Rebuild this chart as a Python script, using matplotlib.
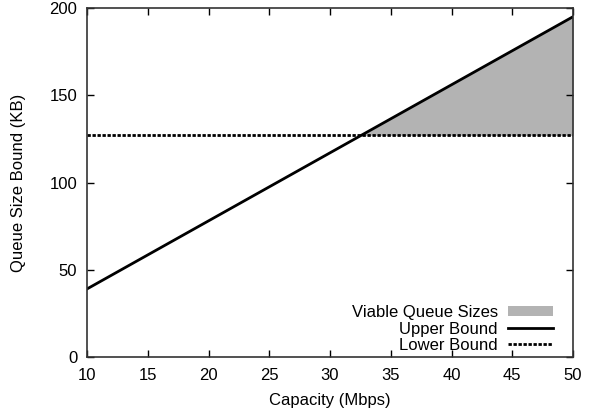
import numpy as np
import matplotlib
matplotlib.use("Agg")
import matplotlib.pyplot as plt
from matplotlib.patches import Patch
from matplotlib.lines import Line2D

plt.rcParams['font.family'] = ['Liberation Sans', 'DejaVu Sans']

capacity = [10, 50]
upper_bound = [39, 195]
lower_bound_value = 127
xticks = [10, 15, 20, 25, 30, 35, 40, 45, 50]
yticks = [0, 50, 100, 150, 200]

FS = 12

fig = plt.figure(figsize=(5.95, 4.11), dpi=100)
ax = fig.add_axes([87/595, 1-357/411, (573-87)/595, (357-8)/411])

xs = np.linspace(capacity[0], capacity[1], 401)
ub = np.interp(xs, capacity, upper_bound)
ax.fill_between(xs, lower_bound_value, ub, where=ub >= lower_bound_value,
                color='#b3b3b3', linewidth=0, interpolate=True)
ax.plot(capacity, upper_bound, color='black', linewidth=2)
ax.plot(capacity, [lower_bound_value]*2, color='black', linewidth=2,
        linestyle=(0, (1.2, 0.6)))

ax.set_xlim(10, 50)
ax.set_ylim(0, 200)
ax.set_xticks(xticks)
ax.set_yticks(yticks)
ax.tick_params(direction='in', top=True, right=True, length=5, width=1,
               labelsize=FS, colors='black')
ax.tick_params(axis='y', pad=7)
ax.tick_params(axis='x', pad=8)
for s in ax.spines.values():
    s.set_linewidth(1.2)
    s.set_color('#333333')
ax.set_xlabel('Capacity (Mbps)', fontsize=FS, labelpad=7)
ax.set_ylabel('Queue Size Bound (KB)', fontsize=FS, labelpad=16.5)

handles = [Patch(facecolor='#b3b3b3', edgecolor='none'),
           Line2D([], [], color='black', linewidth=2),
           Line2D([], [], color='black', linewidth=2, linestyle=(0, (1.2, 0.6)))]
labels = ['Viable Queue Sizes', 'Upper Bound', 'Lower Bound']
leg = ax.legend(handles, labels, loc='lower right', frameon=False,
                markerfirst=False, fontsize=FS, handlelength=2.7,
                handleheight=0.55, labelspacing=0.08, handletextpad=0.6,
                borderpad=0.0, borderaxespad=0.25,
                bbox_to_anchor=(1 - 16/486, 0.0))
for t in leg.get_texts():
    t.set_ha('right')

fig.savefig('out.png', dpi=100)
